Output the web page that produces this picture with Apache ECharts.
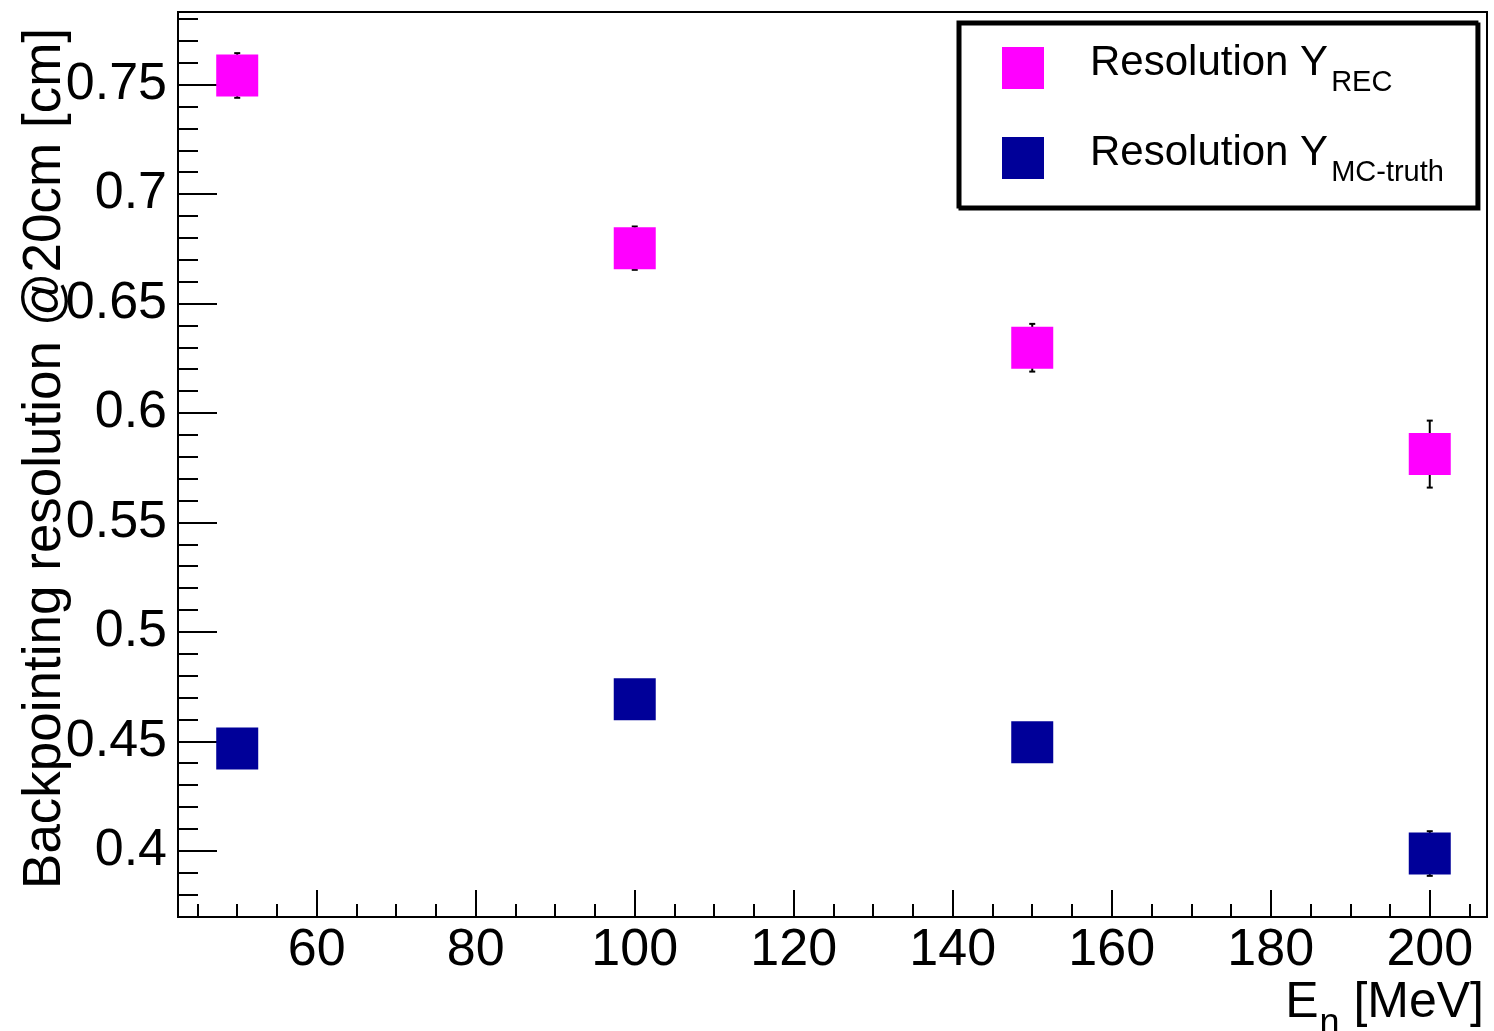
<!DOCTYPE html>
<html>
<head>
<meta charset="utf-8">
<title>Backpointing resolution vs neutron energy</title>
<script src="https://cdn.jsdelivr.net/npm/echarts@6/dist/echarts.min.js"></script>
<style>
  html, body { margin: 0; padding: 0; background: #fff; }
  #chart { width: 1494px; height: 1031px; }
</style>
</head>
<body>
<div id="chart"></div>
<script>
// neutron energy [MeV]
const energies = [50, 100, 150, 200];
// resolution with reconstructed Y [cm]
const resRec = [0.7542, 0.6753, 0.6298, 0.5812];
const resRecErr = [0.0102, 0.0099, 0.0109, 0.0153];
// resolution with MC-truth Y [cm]
const resMc = [0.4467, 0.4692, 0.4496, 0.3987];
const resMcErr = [0.0080, 0.0080, 0.0080, 0.0102];

const xMajorTicks = [60, 80, 100, 120, 140, 160, 180, 200];
const xMinorTicks = [45, 50, 55, 65, 70, 75, 85, 90, 95, 105, 110, 115, 125, 130, 135,
  145, 150, 155, 165, 170, 175, 185, 190, 195, 205];
const yMajorTicks = [0.4, 0.45, 0.5, 0.55, 0.6, 0.65, 0.7, 0.75];
const yMinorTicks = [0.37, 0.38, 0.39, 0.41, 0.42, 0.43, 0.44, 0.46, 0.47, 0.48, 0.49,
  0.51, 0.52, 0.53, 0.54, 0.56, 0.57, 0.58, 0.59, 0.61, 0.62, 0.63, 0.64, 0.66, 0.67,
  0.68, 0.69, 0.71, 0.72, 0.73, 0.74, 0.76, 0.77, 0.78];

const FONT = "'Liberation Sans', Arial, Helvetica, sans-serif";
const X_RANGE = [42.55, 207.2];
const Y_RANGE = [0.3697, 0.7832];

const chart = echarts.init(document.getElementById('chart'));

const lineStyle = { color: '#000', width: 2 };

function majorAxis(range, ticks, tickLen, pos) {
  return {
    type: 'value', min: range[0], max: range[1], position: pos,
    axisLine: { show: true, onZero: false, lineStyle },
    axisTick: { show: true, inside: true, length: tickLen, lineStyle, customValues: ticks },
    axisLabel: {
      show: true, customValues: ticks, color: '#000', fontSize: 52, fontFamily: FONT,
      margin: pos === 'left' ? 11 : 8
    },
    splitLine: { show: false }
  };
}

function minorAxis(range, ticks, tickLen, pos) {
  return {
    type: 'value', min: range[0], max: range[1], position: pos,
    axisLine: { show: false, onZero: false },
    axisTick: { show: true, inside: true, length: tickLen, lineStyle, customValues: ticks },
    axisLabel: { show: false },
    splitLine: { show: false }
  };
}

// vertical error bars with small caps, drawn under the markers
function errorBars(name, xs, ys, errs) {
  return {
    name, type: 'custom', z: 1, silent: true,
    xAxisIndex: 0, yAxisIndex: 0,
    data: xs.map((x, i) => [x, ys[i], errs[i]]),
    encode: { x: 0, y: 1 },
    renderItem: (params, api) => {
      const x = api.value(0), y = api.value(1), e = api.value(2);
      const top = api.coord([x, y + e]);
      const bot = api.coord([x, y - e]);
      const cap = 3;
      const style = { stroke: '#000', lineWidth: 2 };
      return {
        type: 'group',
        children: [
          { type: 'line', shape: { x1: top[0], y1: top[1], x2: bot[0], y2: bot[1] }, style },
          { type: 'line', shape: { x1: top[0] - cap, y1: top[1], x2: top[0] + cap, y2: top[1] }, style },
          { type: 'line', shape: { x1: bot[0] - cap, y1: bot[1], x2: bot[0] + cap, y2: bot[1] }, style }
        ]
      };
    }
  };
}

function points(name, color, xs, ys) {
  return {
    name, type: 'scatter', z: 3, symbol: 'rect', symbolSize: 42,
    itemStyle: { color, opacity: 1 },
    emphasis: { disabled: true },
    data: xs.map((x, i) => [x, ys[i]])
  };
}

const option = {
  animation: false,
  backgroundColor: '#fff',
  grid: {
    left: 178, right: 7, top: 12, bottom: 114,
    show: true, borderColor: '#000', borderWidth: 2,
    containLabel: false, outerBoundsMode: 'none'
  },
  xAxis: [
    majorAxis(X_RANGE, xMajorTicks, 27, 'bottom'),
    minorAxis(X_RANGE, xMinorTicks, 13, 'bottom')
  ],
  yAxis: [
    majorAxis(Y_RANGE, yMajorTicks, 39, 'left'),
    minorAxis(Y_RANGE, yMinorTicks, 20, 'left')
  ],
  legend: {
    orient: 'vertical', left: 958, top: 22,
    padding: [17, 33, 20, 44],
    itemWidth: 42, itemHeight: 42, itemGap: 32,
    selectedMode: false,
    backgroundColor: '#fff', borderColor: '#000', borderWidth: 3,
    shadowColor: '#000', shadowOffsetX: 2, shadowOffsetY: 2, shadowBlur: 0,
    data: [{ name: 'REC', icon: 'rect' }, { name: 'MC-truth', icon: 'rect' }],
    formatter: name => '{m|Resolution Y}{s|' + name + '}',
    textStyle: {
      color: '#000',
      rich: {
        m: { fontFamily: FONT, fontSize: 42, lineHeight: 42, color: '#000', padding: [0, 0, 10, 41] },
        s: { fontFamily: FONT, fontSize: 29, lineHeight: 42, color: '#000', padding: [29, 0, 0, 3] }
      }
    }
  },
  graphic: [
    {
      type: 'text', x: 1484, y: 1003, z: 10,
      style: {
        text: '{m|E}{s|n}{m| [MeV]}',
        align: 'right', verticalAlign: 'middle',
        rich: {
          m: { fontFamily: FONT, fontSize: 50, lineHeight: 50, fill: '#000' },
          s: { fontFamily: FONT, fontSize: 36, lineHeight: 50, fill: '#000', padding: [43, 0, 0, 1] }
        }
      }
    },
    {
      type: 'text', x: 45, y: 28, rotation: Math.PI / 2, z: 10,
      style: {
        text: 'Backpointing resolution @20cm [cm]',
        fontFamily: FONT, fontSize: 53, fill: '#000',
        align: 'right', verticalAlign: 'middle'
      }
    }
  ],
  series: [
    errorBars('REC errors', energies, resRec, resRecErr),
    errorBars('MC-truth errors', energies, resMc, resMcErr),
    points('REC', '#ff00ff', energies, resRec),
    points('MC-truth', '#000099', energies, resMc)
  ]
};

chart.setOption(option);
</script>
</body>
</html>
